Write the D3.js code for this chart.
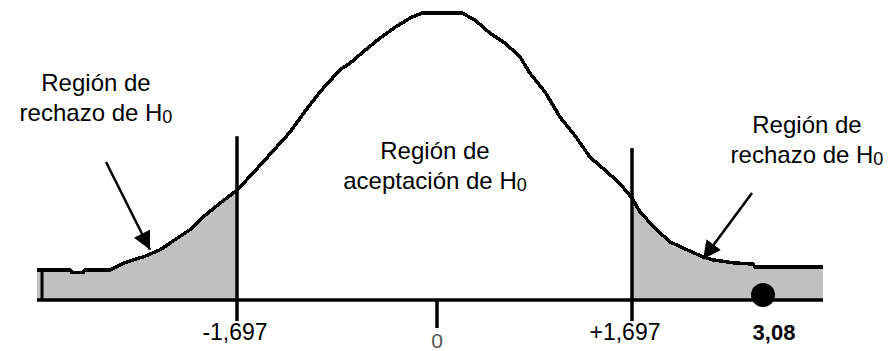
<!DOCTYPE html>
<html>
  <head>
    <meta charset="utf-8">
    <title>region de rechazo</title>
    <script src="https://d3js.org/d3.v7.min.js"></script>
    <style>
      body{margin:0;background:#fff;}
      text{font-family:"Liberation Sans",Arial,sans-serif;}
    </style>
  </head>
  <body>
  <svg width="895" height="351"></svg>
  <script>
    // curve (x in t units, y = height of the bell)
    var curveX = [-3.394,-3.114,-3.097,-3.004,-2.987,-2.774,-2.647,-2.478,-2.350,-2.223,-2.096,-1.968,-1.841,-1.697,
                  -1.544,-1.417,-1.247,-1.120,-0.993,-0.823,-0.738,-0.611,-0.484,-0.356,-0.229,-0.127,0.218,
                  0.331,0.461,0.592,0.722,0.809,0.940,1.070,1.201,1.332,1.462,1.593,1.697,
                  1.781,1.940,2.098,2.278,2.447,2.552,2.753,2.975,2.996,3.713];
    var curveY = [0.042,0.042,0.038,0.038,0.042,0.042,0.052,0.061,0.070,0.084,0.098,0.118,0.135,0.153,
                  0.180,0.203,0.234,0.263,0.290,0.321,0.330,0.348,0.365,0.380,0.393,0.400,0.400,
                  0.390,0.372,0.358,0.339,0.316,0.290,0.255,0.229,0.199,0.181,0.162,0.142,
                  0.123,0.100,0.081,0.070,0.060,0.056,0.052,0.050,0.046,0.046];

    var criticos = [-1.697, 1.697];
    var tickValues = [-1.697, 0, 1.697];
    var tickLabels = ["-1,697", "0", "+1,697"];
    var observado = 3.08;
    var observadoLabel = "3,08";
    var regionLines = [["Región de", "rechazo de H"], ["Región de", "aceptación de H"], ["Región de", "rechazo de H"]];
    var subIndex = "0";

    var svg = d3.select("svg");
    var W = +svg.attr("width"), H = +svg.attr("height");
    svg.append("rect").attr("width", W).attr("height", H).attr("fill", "#fff");

    // the picture is not to scale, so the axis bends at the marked values
    var x = d3.scaleLinear().domain([-1.697, 0, 1.697, 3.08]).range([237, 437, 632, 763]);
    var y = d3.scaleLinear().domain([0, 0.4]).range([300, 13]);

    var pts = curveX.map(function(v, i){ return {x: v, y: curveY[i]}; });

    var area = d3.area()
      .x(function(d){ return x(d.x); })
      .y0(y(0))
      .y1(function(d){ return y(d.y); });

    // shaded tails
    svg.append("path")
      .datum(pts.filter(function(d){ return d.x <= criticos[0]; }))
      .attr("d", area)
      .attr("fill", "#c0c0c0");
    svg.append("path")
      .datum(pts.filter(function(d){ return d.x >= criticos[1]; }))
      .attr("d", area)
      .attr("fill", "#c0c0c0");

    // left edge of the shaded tail
    svg.append("line")
      .attr("x1", x(curveX[0]) + 5).attr("x2", x(curveX[0]) + 5)
      .attr("y1", y(0)).attr("y2", y(curveY[0]))
      .attr("stroke", "#000").attr("stroke-width", 3);

    // bell curve, kept jagged like the original
    var line = d3.line()
      .x(function(d){ return x(d.x); })
      .y(function(d){ return y(d.y); });
    svg.append("path")
      .datum(pts)
      .attr("d", line)
      .attr("fill", "none")
      .attr("stroke", "#000")
      .attr("stroke-width", 3.5)
      .attr("shape-rendering", "crispEdges");

    // baseline
    svg.append("line")
      .attr("x1", x(curveX[0])).attr("x2", x(curveX[curveX.length - 1]))
      .attr("y1", y(0)).attr("y2", y(0))
      .attr("stroke", "#000").attr("stroke-width", 3.5);

    // critical value lines
    svg.selectAll(".crit")
      .data(criticos)
      .enter()
      .append("line")
      .attr("class", "crit")
      .attr("x1", function(d){ return x(d); })
      .attr("x2", function(d){ return x(d); })
      .attr("y1", function(d, i){ return y(curveY[curveX.indexOf(d)]) - (i == 0 ? 54 : 50); })
      .attr("y2", y(0) + 21)
      .attr("stroke", "#000").attr("stroke-width", 3.5);

    // tick at 0
    svg.append("line")
      .attr("x1", x(0)).attr("x2", x(0))
      .attr("y1", y(0)).attr("y2", y(0) + 28)
      .attr("stroke", "#000").attr("stroke-width", 3.5);

    // tick labels
    svg.selectAll(".tl")
      .data(tickValues)
      .enter()
      .append("text")
      .attr("class", "tl")
      .attr("x", function(d, i){ return x(d) + [-2, 0, -7][i]; })
      .attr("y", function(d){ return d == 0 ? 348 : 340; })
      .attr("text-anchor", "middle")
      .attr("font-size", function(d){ return d == 0 ? 21 : 23; })
      .attr("fill", function(d){ return d == 0 ? "#555" : "#000"; })
      .text(function(d, i){ return tickLabels[i]; });

    // observed statistic
    svg.append("circle")
      .attr("cx", x(observado)).attr("cy", y(0) - 5)
      .attr("r", 12)
      .attr("fill", "#000");
    svg.append("text")
      .attr("x", x(observado) + 11).attr("y", 340)
      .attr("text-anchor", "middle")
      .attr("font-size", 22)
      .attr("font-weight", "bold")
      .text(observadoLabel);

    // region labels
    var labelPos = [[96, 91], [435, 159], [807, 133]];
    regionLines.forEach(function(ls, i){
      var t = svg.append("text")
        .attr("text-anchor", "middle")
        .attr("font-size", 24);
      t.append("tspan").attr("x", labelPos[i][0]).attr("y", labelPos[i][1]).text(ls[0]);
      t.append("tspan").attr("x", labelPos[i][0]).attr("y", labelPos[i][1] + 30).text(ls[1])
        .append("tspan").attr("font-size", 18).attr("dy", 2).text(subIndex);
    });

    // arrows
    svg.append("marker")
      .attr("id", "head")
      .attr("markerUnits", "userSpaceOnUse")
      .attr("viewBox", "0 -5 10 10")
      .attr("refX", 10).attr("refY", 0)
      .attr("markerWidth", 18).attr("markerHeight", 18)
      .attr("orient", "auto")
      .append("path")
      .attr("d", "M0,-5L10,0L0,5Z")
      .attr("fill", "#000");

    var arrows = [[106, 162, -2.435, 0.070], [752, 193, 2.447, 0.057]];
    svg.selectAll(".arr")
      .data(arrows)
      .enter()
      .append("line")
      .attr("class", "arr")
      .attr("x1", function(d){ return d[0]; })
      .attr("y1", function(d){ return d[1]; })
      .attr("x2", function(d){ return x(d[2]); })
      .attr("y2", function(d){ return y(d[3]); })
      .attr("stroke", "#000").attr("stroke-width", 2.5)
      .attr("marker-end", "url(#head)");
  </script>
  </body>
</html>
